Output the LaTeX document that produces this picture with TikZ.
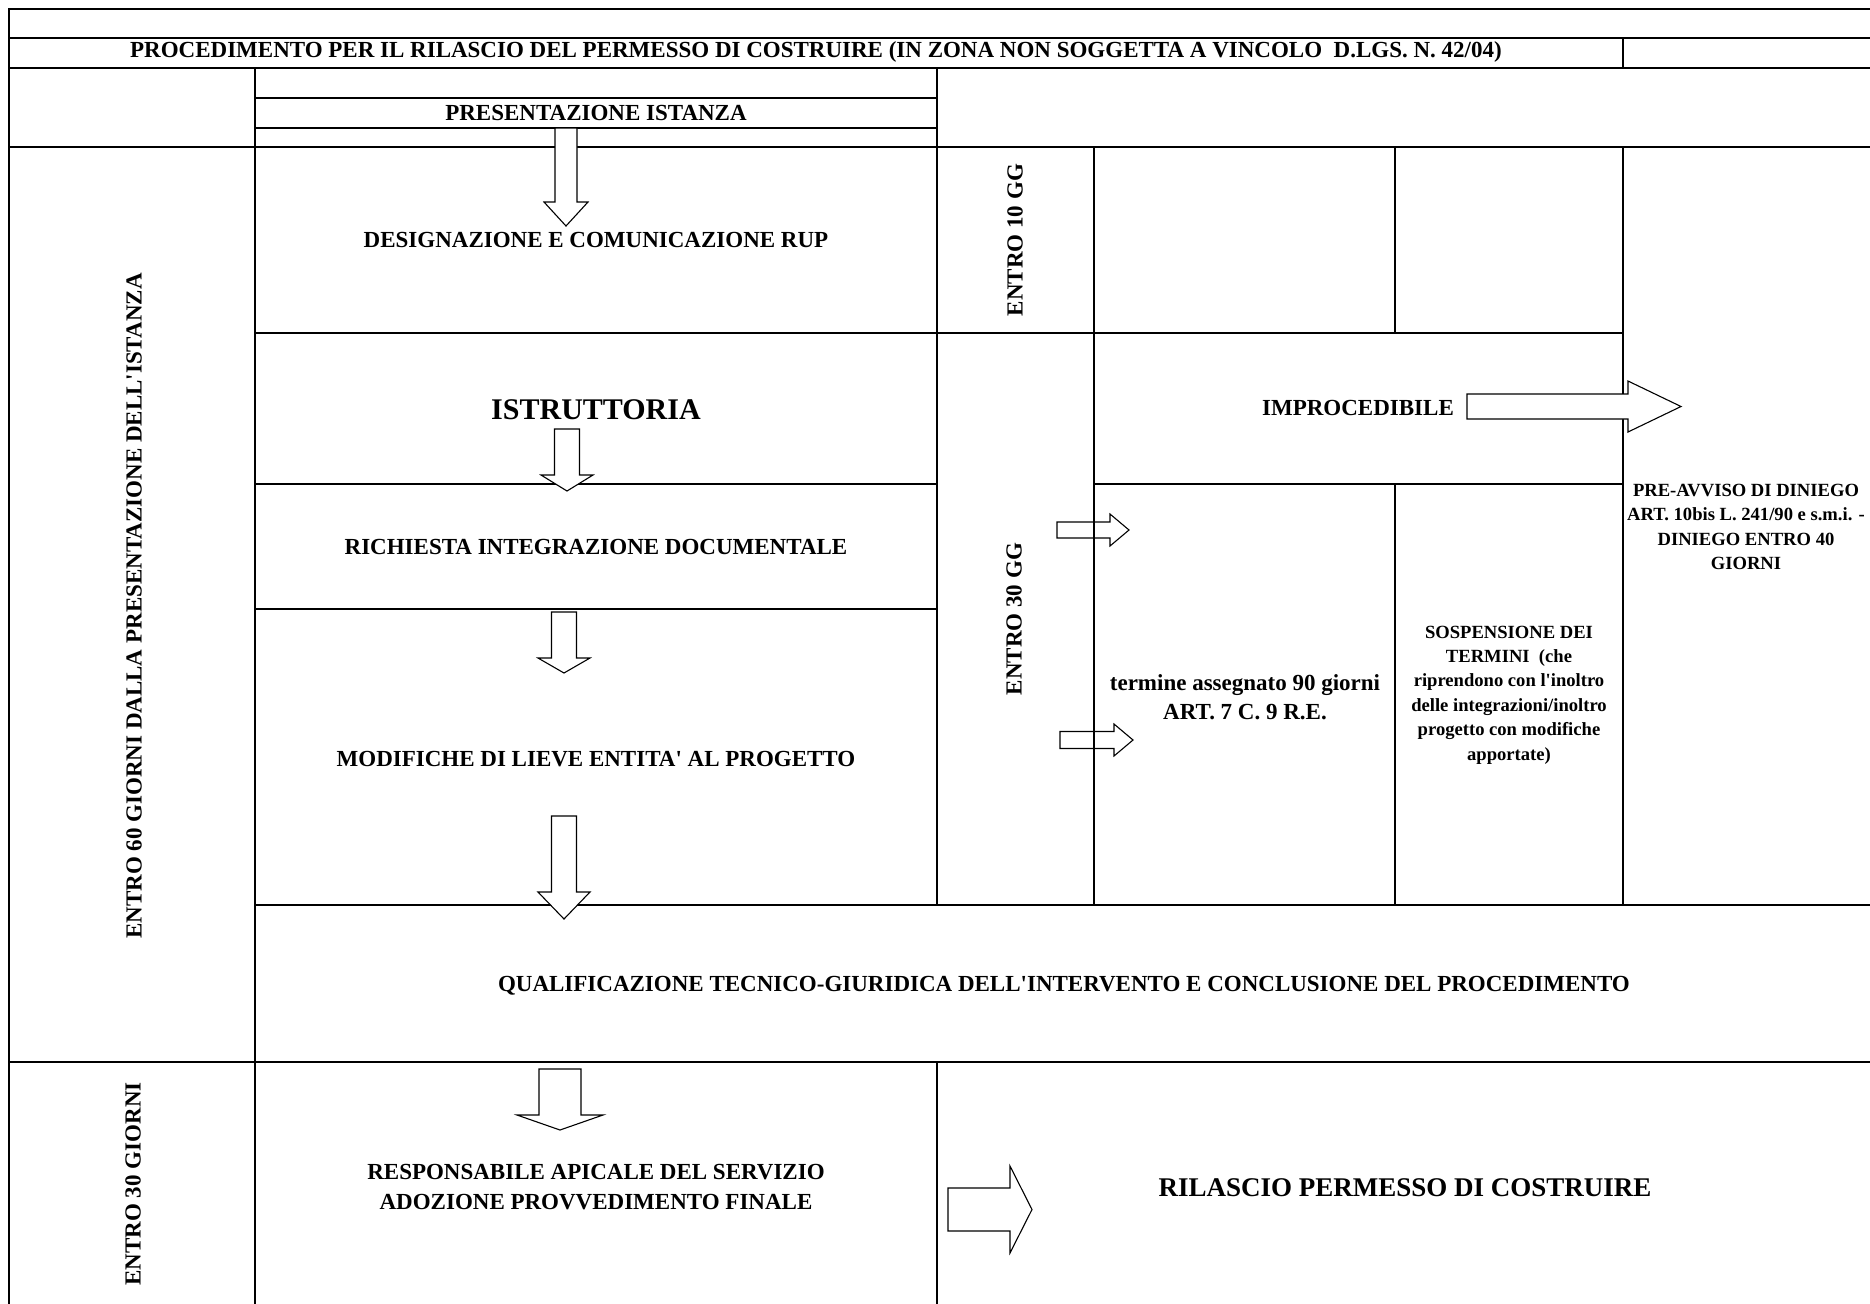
\documentclass[tikz,border=0pt]{standalone}
\usepackage{fontspec}
\setmainfont{Liberation Serif}
\newcommand{\downblock}[7][blk]{%
  \draw[#1] (#2-#6,#3) -- (#2+#6,#3) -- (#2+#6,#4) -- (#2+#7,#4)
    -- (#2,#5) -- (#2-#7,#4) -- (#2-#6,#4) -- cycle;}
\newcommand{\rightblock}[7][blk]{%
  \draw[#1] (#3,#2-#6) -- (#4,#2-#6) -- (#4,#2-#7) -- (#5,#2)
    -- (#4,#2+#7) -- (#4,#2+#6) -- (#3,#2+#6) -- cycle;}

\begin{document}
\begin{tikzpicture}[x=0.5pt, y=-0.5pt,
    txt/.style={font=\fontsize{11.5}{14.8}\selectfont\bfseries, align=center, inner sep=0pt},
    bigtxt/.style={txt, font=\fontsize{15}{18}\selectfont\bfseries},
    midtxt/.style={txt, font=\fontsize{13.5}{16}\selectfont\bfseries},
    smalltxt/.style={txt, font=\fontsize{9.3}{12.2}\selectfont\bfseries},
    gridline/.style={line width=0.65pt},
    frameline/.style={line width=1pt},
    blk/.style={draw, fill=white, line width=0.55pt},
    blkopen/.style={draw, line width=0.55pt}
  ]
  \useasboundingbox (0,0) rectangle (1870,1303);
  \fill[white] (0,0) rectangle (1870,1303);

  % table
  \draw[frameline] (9,1310) -- (9,9) -- (1875,9);
  \draw[gridline] (9,38) -- (1875,38);
  \draw[frameline] (9,68) -- (1875,68);
  \draw[gridline] (255,98) -- (937,98);
  \draw[gridline] (255,128) -- (937,128);
  \draw[gridline] (9,147) -- (1875,147);
  \draw[gridline] (255,333) -- (1623,333);
  \draw[gridline] (255,484) -- (937,484);
  \draw[gridline] (1094,484) -- (1623,484);
  \draw[gridline] (255,609) -- (937,609);
  \draw[gridline] (255,905) -- (1875,905);
  \draw[gridline] (9,1062) -- (1875,1062);
  \draw[frameline] (1623,38) -- (1623,68);
  \draw[gridline] (255,68) -- (255,1310);
  \draw[gridline] (937,68) -- (937,905);
  \draw[gridline] (937,1062) -- (937,1310);
  \draw[gridline] (1094,147) -- (1094,905);
  \draw[gridline] (1395,147) -- (1395,333);
  \draw[gridline] (1395,484) -- (1395,905);
  \draw[gridline] (1623,147) -- (1623,905);

  \node[txt] (title)    at (816,52)   {PROCEDIMENTO PER IL RILASCIO DEL PERMESSO DI COSTRUIRE (IN ZONA NON SOGGETTA A VINCOLO~~D.LGS. N. 42/04)};
  \node[txt] (istanza)  at (596,113)  {PRESENTAZIONE ISTANZA};
  \node[txt] (rup)      at (596,240)  {DESIGNAZIONE E COMUNICAZIONE RUP};
  \node[bigtxt] (istr)  at (596,410)  {ISTRUTTORIA};
  \node[txt] (integr)   at (596,547)  {RICHIESTA INTEGRAZIONE DOCUMENTALE};
  \node[txt] (modif)    at (596,759)  {MODIFICHE DI LIEVE ENTITA\textquotesingle{} AL PROGETTO};
  \node[txt] (qualif)   at (1064,986) {QUALIFICAZIONE TECNICO-GIURIDICA DELL\textquotesingle INTERVENTO E CONCLUSIONE DEL PROCEDIMENTO};
  \node[txt] (apicale)  at (596,1187) {RESPONSABILE APICALE DEL SERVIZIO\\ADOZIONE PROVVEDIMENTO FINALE};
  \node[midtxt] (rilascio) at (1405,1188) {RILASCIO PERMESSO DI COSTRUIRE};
  \node[txt] (improc)   at (1358,408) {IMPROCEDIBILE};
  \node[txt] (termine)  at (1245,697) {termine assegnato 90 giorni\\ART. 7 C. 9 R.E.};
  \node[smalltxt] (sosp)    at (1509,695) {SOSPENSIONE DEI\\TERMINI~~(che\\riprendono con l\textquotesingle inoltro\\delle integrazioni/inoltro\\progetto con modifiche\\apportate)};
  \node[smalltxt] (diniego) at (1746,527) {PRE-AVVISO DI DINIEGO\\ART. 10bis L. 241/90 e s.m.i. -\\DINIEGO ENTRO 40\\GIORNI};
  \node[txt, rotate=90] (t60)  at (134,606)  {ENTRO 60 GIORNI DALLA PRESENTAZIONE DELL\textquotesingle ISTANZA};
  \node[txt, rotate=90] (t10)  at (1015,240) {ENTRO 10 GG};
  \node[txt, rotate=90] (t30g) at (1014,619) {ENTRO 30 GG};
  \node[txt, rotate=90] (t30)  at (133,1184) {ENTRO 30 GIORNI};

  % block arrows
  \downblock{566}{128}{202}{226}{11}{22}
  \downblock{567}{429}{475}{491}{12.5}{26}
  \downblock{564}{612}{658}{673}{12.5}{26}
  \downblock{564}{816}{892}{919}{12.5}{26}
  \downblock{560}{1069}{1115}{1130}{21}{43}
  \rightblock{406.5}{1467}{1628}{1681}{12.5}{25.5}
  \rightblock[blkopen]{530}{1057}{1110}{1129}{8}{16}
  \rightblock[blkopen]{740}{1060}{1114}{1133}{8.5}{16}
  \rightblock{1209.5}{948}{1010}{1032}{21.5}{43.5}
\end{tikzpicture}
\end{document}
